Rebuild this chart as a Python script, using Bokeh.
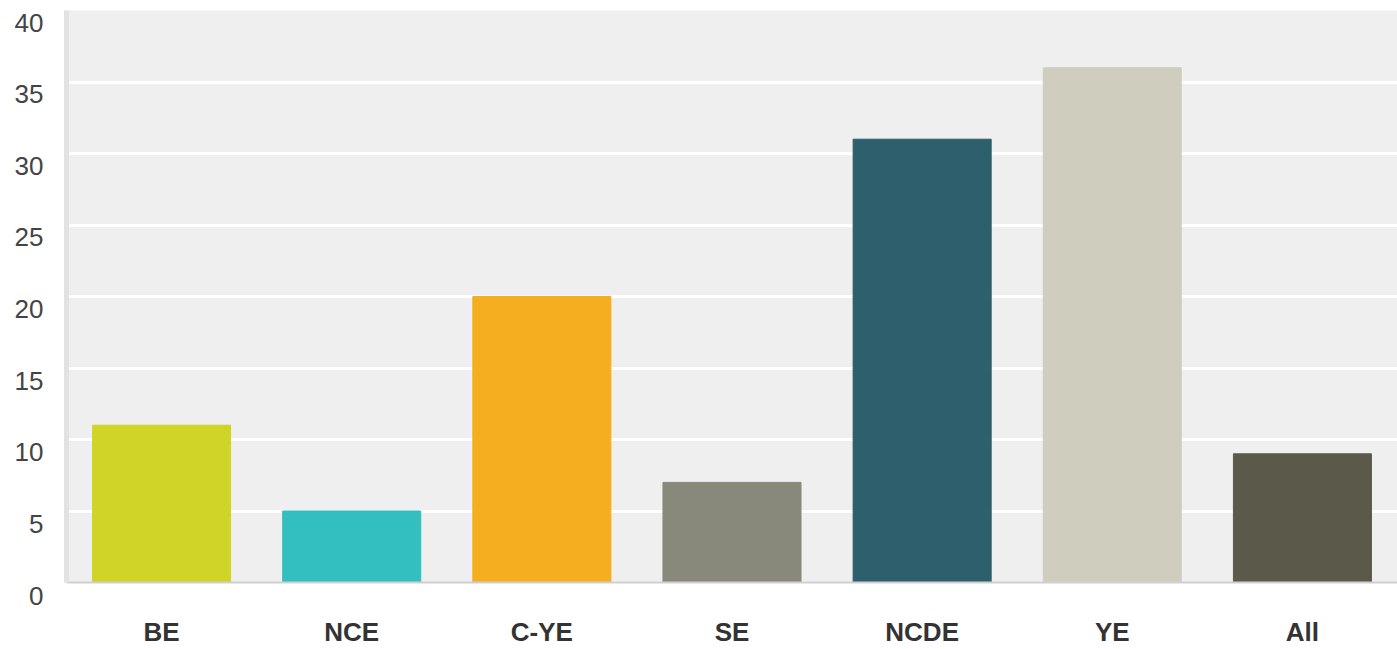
from bokeh.plotting import figure
from bokeh.layouts import row
from bokeh.models import Range1d, FactorRange, FixedTicker, ColumnDataSource
from bokeh.embed import file_html
from bokeh.resources import INLINE

categories = ["BE", "NCE", "C-YE", "SE", "NCDE", "YE", "All"]
values = [11, 5, 20, 7, 31, 36, 9]
colors = ["#cfd427", "#33bec0", "#f5ae1f", "#88897a", "#2e5f6d", "#cfcdbe", "#5b5a4a"]
y_ticks = [0, 5, 10, 15, 20, 25, 30, 35, 40]

FONT = "Liberation Sans"
Y_MAX = 40
H = 649
LEFT_W = 56

# ---- main chart ----
p = figure(x_range=FactorRange(*categories, range_padding=0), y_range=Range1d(0, Y_MAX),
           width=1397 - LEFT_W, height=H, output_backend="svg", toolbar_location=None,
           min_border_left=66 - LEFT_W, min_border_right=0, min_border_top=10,
           min_border_bottom=66)
p.frame_align = False

p.background_fill_color = "#efefef"
p.border_fill_color = "white"
p.outline_line_color = None

src = ColumnDataSource(dict(cat=categories, val=values, col=colors))
p.vbar(x="cat", top="val", width=0.726, fill_color="col", line_color="col", source=src)

p.xgrid.grid_line_color = None
p.ygrid.ticker = FixedTicker(ticks=y_ticks)
p.ygrid.grid_line_color = "white"
p.ygrid.grid_line_width = 3

# y axis of the main chart: only its line
p.yaxis.ticker = FixedTicker(ticks=[])
p.yaxis.axis_line_color = "#e2e2e2"
p.yaxis.axis_line_width = 5
p.yaxis.major_tick_line_color = None
p.yaxis.minor_tick_line_color = None
p.yaxis.major_tick_out = 0
p.yaxis.major_label_standoff = 0

p.xaxis.axis_line_color = "#d0d0d0"
p.xaxis.axis_line_width = 2
p.xaxis.major_tick_line_color = None
p.xaxis.major_label_text_font = FONT
p.xaxis.major_label_text_font_size = "26px"
p.xaxis.major_label_text_font_style = "bold"
p.xaxis.major_label_text_color = "#333333"
p.xaxis.major_label_standoff = 28

# ---- narrow strip holding the y tick labels (they sit ~12px below the grid lines) ----
lf = figure(x_range=Range1d(0, 1), y_range=Range1d(0, Y_MAX), width=LEFT_W, height=H,
            output_backend="svg", toolbar_location=None, x_axis_location=None,
            min_border_left=45, min_border_right=0, min_border_top=22, min_border_bottom=54)
lf.frame_align = False
lf.outline_line_color = None
lf.background_fill_color = "white"
lf.border_fill_color = "white"
lf.grid.visible = False
lf.yaxis.ticker = FixedTicker(ticks=y_ticks)
lf.yaxis.axis_line_color = None
lf.yaxis.major_tick_line_color = None
lf.yaxis.minor_tick_line_color = None
lf.yaxis.major_tick_out = 0
lf.yaxis.major_label_standoff = 2
lf.yaxis.major_label_text_font = FONT
lf.yaxis.major_label_text_font_size = "26px"
lf.yaxis.major_label_text_color = "#444444"

layout = row(lf, p, spacing=0)
open("out.html", "w").write(file_html(layout, INLINE))
